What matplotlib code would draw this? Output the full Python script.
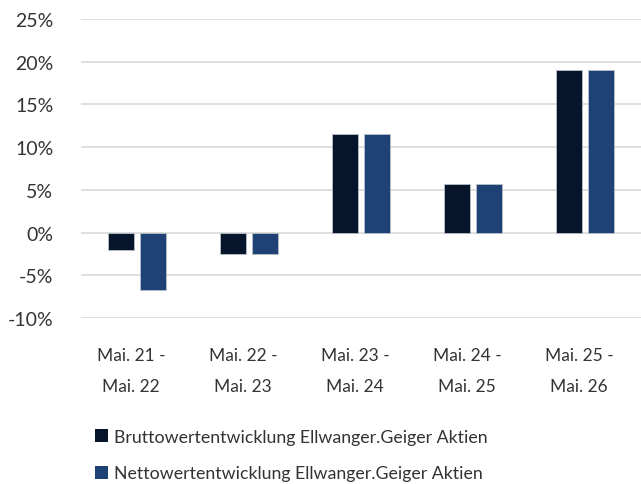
import numpy as np
import matplotlib
matplotlib.use('Agg')
import matplotlib.pyplot as plt
import matplotlib.transforms as mtransforms
from matplotlib.patches import Patch

categories = ['Mai. 21 -\nMai. 22', 'Mai. 22 -\nMai. 23', 'Mai. 23 -\nMai. 24',
              'Mai. 24 -\nMai. 25', 'Mai. 25 -\nMai. 26']
brutto = [-2.0, -2.5, 11.5, 5.7, 19.0]
netto = [-6.7, -2.5, 11.5, 5.7, 19.0]
series_labels = ['Bruttowertentwicklung Ellwanger.Geiger Aktien',
                 'Nettowertentwicklung Ellwanger.Geiger Aktien']
yticks = [-10, -5, 0, 5, 10, 15, 20, 25]

c_dark = '#061529'
c_blue = '#1f4276'
txt = '#333333'

plt.rcParams['font.family'] = ['Lato', 'DejaVu Sans']

fig = plt.figure(figsize=(6.41, 4.85), dpi=100)
ax = fig.add_axes([81/641, 1 - 319/485, 1 - 81/641, (319 - 20)/485])

x = np.arange(len(categories))
w = 0.235
ax.bar(x - 0.027 - w/2, brutto, w, color=c_dark, edgecolor='#b8bfc9', linewidth=0.6, zorder=3)
ax.bar(x + 0.027 + w/2, netto, w, color=c_blue, edgecolor='#b8bfc9', linewidth=0.6, zorder=3)

ax.set_xlim(-0.5, len(categories) - 0.5)
ax.set_ylim(-10, 25)
ax.set_yticks(yticks)
ax.set_yticklabels([f'{v}%' for v in yticks], fontsize=14, color=txt)
ax.set_xticks(x)
ax.set_xticklabels(categories, fontsize=12.5, color=txt, linespacing=2.15)
ax.tick_params(axis='y', length=0, pad=20)
ax.tick_params(axis='x', length=0, pad=21)
shift = mtransforms.ScaledTranslation(-6/100, 0, fig.dpi_scale_trans)
for t in ax.get_xticklabels():
    t.set_transform(t.get_transform() + shift)
ax.grid(axis='y', color='#d9d9d9', linewidth=1.2, zorder=0)
for s in ax.spines.values():
    s.set_visible(False)

handles = [Patch(facecolor=c_dark), Patch(facecolor=c_blue)]
leg = fig.legend(handles, series_labels, loc='upper left', bbox_to_anchor=(86/641, 1 - 421/485),
                 frameon=False, fontsize=12.8, handlelength=0.75, handleheight=0.75,
                 handletextpad=0.3, labelspacing=1.15, borderpad=0)
for t in leg.get_texts():
    t.set_color(txt)

fig.savefig('out.png', dpi=100)
